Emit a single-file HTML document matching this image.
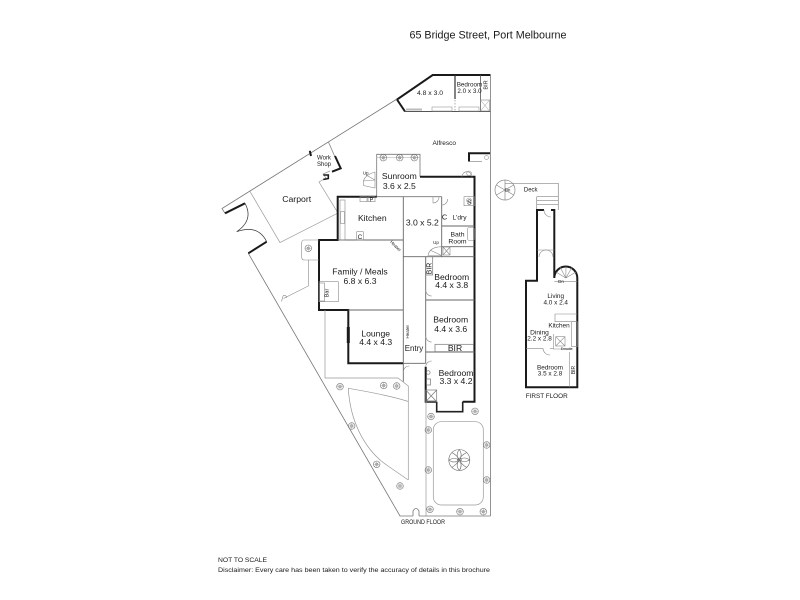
<!DOCTYPE html>
<html><head><meta charset="utf-8"><style>
html,body{margin:0;padding:0;background:#fff;}
svg{display:block;}
text{font-family:"Liberation Sans",Arial,sans-serif;fill:#1a1a1a;}
</style></head><body>
<svg width="800" height="600" viewBox="0 0 800 600" xmlns="http://www.w3.org/2000/svg">
<defs>
<symbol id="pl" viewBox="-4 -4 8 8" overflow="visible">
<circle r="3.3" fill="none" stroke="#777" stroke-width="0.6"/>
<circle r="1.3" fill="none" stroke="#777" stroke-width="0.5"/>
<path d="M-3,0H3M0,-3V3M-2.2,-2.2L2.2,2.2M-2.2,2.2L2.2,-2.2" stroke="#999" stroke-width="0.4"/>
</symbol>
</defs>
<rect width="800" height="600" fill="#fff"/>

<!-- Title -->
<text x="409.5" y="38.5" font-size="10.7" textLength="157" lengthAdjust="spacingAndGlyphs">65 Bridge Street, Port Melbourne</text>

<!-- ===== Studio top ===== -->
<g fill="none" stroke-linejoin="miter">
<path d="M405,111.5 L397,99.5 L432.7,75 L490.5,75" stroke="#1a1a1a" stroke-width="2"/>
<path d="M405,111.5 H490.5" stroke="#555" stroke-width="1"/>
<path d="M455,75 V99" stroke="#333" stroke-width="1.2"/>
<path d="M455,100 V111" stroke="#888" stroke-width="0.7" stroke-dasharray="1.5,1.5"/>
<path d="M480.5,75 V111.5" stroke="#555" stroke-width="0.8"/>
<rect x="480.5" y="100" width="9" height="11" stroke="#888" stroke-width="0.6"/>
<path d="M480.5,100 L489.5,111 M489.5,100 L480.5,111" stroke="#999" stroke-width="0.5"/>
<rect x="432" y="107" width="20" height="4" stroke="#999" stroke-width="0.6"/>
<rect x="459" y="107" width="20" height="4" stroke="#999" stroke-width="0.6"/>
<path d="M406,109.5 H422" stroke="#bbb" stroke-width="2"/>
</g>
<text x="430" y="95" font-size="6.8" text-anchor="middle">4.8 x 3.0</text>
<text x="469.5" y="86.5" font-size="6.3" text-anchor="middle">Bedroom</text>
<text x="469.5" y="92.8" font-size="6.3" text-anchor="middle">2.0 x 3.0</text>
<text transform="translate(487.3,85) rotate(-90)" font-size="5.5" text-anchor="middle">BIR</text>

<!-- ===== Property boundary ===== -->
<g fill="none" stroke="#777" stroke-width="0.8">
<path d="M397,99 L222,208.5 L225,213.3"/>
<path d="M248.3,253.3 L400,516 H413 M419,516 H490.5"/>
<path d="M413,516 V511 Q416,506 419,511 V516"/>
<path d="M490.5,75 V516"/>
</g>
<!-- gate leaves -->
<path d="M225,213.3 L245,203.3" stroke="#1a1a1a" stroke-width="2"/>
<path d="M266.7,241.7 L248.3,253.3" stroke="#1a1a1a" stroke-width="2"/>
<path d="M245,203.3 Q254,220 236.7,231.7 Q258,224 266.7,241.7" fill="none" stroke="#333" stroke-width="0.7"/>

<!-- Carport -->
<path d="M250,191.5 L280,242.5 L338,213 L319,182 L326,178 L323,174 L330,171" fill="none" stroke="#999" stroke-width="0.7"/>
<text x="296.7" y="202" font-size="8.7" text-anchor="middle">Carport</text>

<!-- Work shop -->
<path d="M328.3,141.7 L335,157" fill="none" stroke="#888" stroke-width="0.8"/>
<path d="M335,156 L340.7,168.3 L332,171.7" fill="none" stroke="#1a1a1a" stroke-width="2"/>
<path d="M309.8,150.8 L311,156" fill="none" stroke="#1a1a1a" stroke-width="2"/>
<path d="M323.3,175 H328.3 V178.5 L323.3,179.5" fill="none" stroke="#1a1a1a" stroke-width="1.6"/>
<text x="324" y="159.5" font-size="6" text-anchor="middle">Work</text>
<text x="324" y="165.9" font-size="6" text-anchor="middle">Shop</text>

<!-- Alfresco -->
<text x="444.3" y="145" font-size="6.5" text-anchor="middle">Alfresco</text>
<path d="M469,161.5 V153.3 H490" fill="none" stroke="#1a1a1a" stroke-width="2"/>
<path d="M469,161.5 H482" fill="none" stroke="#777" stroke-width="0.6"/>
<circle cx="486.5" cy="157.5" r="2" fill="none" stroke="#888" stroke-width="0.5"/>

<!-- ===== Sunroom ===== -->
<g fill="none" stroke="#777" stroke-width="0.8">
<path d="M376.7,196.7 V154.3 H420 V176.7"/>
<path d="M376.7,157.5 H420" stroke="#aaa" stroke-width="0.5"/>
<path d="M376.7,196.7 H441.7"/>
</g>
<use href="#pl" x="379.3" y="153.7" width="8" height="8"/>
<use href="#pl" x="395.7" y="153.7" width="8" height="8"/>
<use href="#pl" x="410.3" y="153.7" width="8" height="8"/>
<path d="M375,172 L375,188 L363.5,185.5 Q361.5,176 375,172 Z M375,180 L363,181 M375,180 L366,175" fill="none" stroke="#888" stroke-width="0.6"/>
<text x="365.7" y="174.5" font-size="4.5" text-anchor="middle">Up</text>
<text x="399.3" y="179" font-size="8.6" text-anchor="middle">Sunroom</text>
<text x="399.3" y="188.8" font-size="8.6" text-anchor="middle">3.6 x 2.5</text>

<!-- ===== Main house thick walls ===== -->
<g fill="none" stroke="#1a1a1a" stroke-width="2" stroke-linejoin="miter">
<path d="M376.7,196.7 H337.7 V240 H319 V310 H348.3 V363.3 H403.3"/>
<path d="M420,176.7 H474.5 V401.7 H462.7"/>
<path d="M436.7,401.7 H425.7 V366.7"/>
</g>
<!-- lounge window -->
<rect x="346.8" y="327" width="3" height="16" fill="#1a1a1a"/>
<!-- bay -->
<path d="M436.7,401.7 V411.7 H462.7 V401.7" fill="none" stroke="#222" stroke-width="1.6"/>

<!-- inner walls -->
<g fill="none" stroke="#666" stroke-width="0.9">
<path d="M403.3,196.7 V363.3"/>
<path d="M337.7,240 H403.3"/>
<path d="M348.3,310 H403.3"/>
<path d="M441.7,196.7 V256.7"/>
<path d="M441.7,226 H474.5"/>
<path d="M441.7,246.7 H474.5"/>
<path d="M403.3,256.7 H474.5"/>
<path d="M425.7,256.7 V363.3"/>
<path d="M425.7,300 H474.5"/>
<path d="M425.7,352 H474.5"/>
<path d="M403.3,363.3 H425.7"/>
<path d="M403.3,363.3 V381.7"/>
</g>
<!-- door arcs -->
<g fill="none" stroke="#888" stroke-width="0.6">
<path d="M433,196.7 V203 A6,6 0 0 0 439,196.7"/>
<path d="M403.3,372 A6,6 0 0 1 409.3,366"/>
<path d="M425.7,367 A6,6 0 0 1 431.7,361"/>
<path d="M425.7,290 A6,6 0 0 0 431.7,296"/>
<path d="M425.7,336 A6,6 0 0 0 431.7,342"/>
<path d="M441.7,205 A6,6 0 0 0 447.7,199"/>
<path d="M462,176.7 A5,5 0 0 1 472,176.7"/>
<circle cx="469" cy="173.3" r="2.3"/>
<circle cx="469" cy="200.3" r="2.3"/>
</g>

<!-- Kitchen fixtures -->
<g fill="none" stroke="#888" stroke-width="0.6">
<rect x="340" y="200" width="5" height="40"/>
<rect x="340.5" y="211.7" width="4" height="11.6"/>
<rect x="360" y="196.7" width="7" height="5"/>
<rect x="368" y="196.7" width="7" height="5"/>
<rect x="356.7" y="231.7" width="6.6" height="8.3"/>
</g>
<text x="371.5" y="201.3" font-size="5.5" text-anchor="middle">P</text>
<text x="360" y="238.8" font-size="6.5" text-anchor="middle">C</text>
<text x="372.3" y="220.8" font-size="8.6" text-anchor="middle">Kitchen</text>
<text x="422.3" y="225.4" font-size="8.6" text-anchor="middle">3.0 x 5.2</text>

<!-- Laundry / bath -->
<g fill="none" stroke="#888" stroke-width="0.6">
<rect x="464" y="196.7" width="10.5" height="9"/>
<rect x="467.5" y="227.5" width="7" height="13" rx="2"/>
<rect x="443" y="247" width="7" height="8"/>
<path d="M443,247 L450,255 M450,247 L443,255"/>
<path d="M441.5,255.5 L428,255.5 Q429.5,247 441.5,246.7 Z M441.5,255.5 L430,250"/>
</g>
<text x="469.3" y="204.5" font-size="7" text-anchor="middle">S</text>
<text x="444.6" y="219.6" font-size="7.5" text-anchor="middle">C</text>
<text x="459.5" y="219.3" font-size="6.6" text-anchor="middle">L'dry</text>
<text x="457.5" y="236.4" font-size="6.8" text-anchor="middle">Bath</text>
<text x="457.5" y="243.4" font-size="6.8" text-anchor="middle">Room</text>
<text x="436" y="244" font-size="4.5" text-anchor="middle">Up</text>

<!-- Family left fixtures -->
<g fill="none" stroke="#888" stroke-width="0.6">
<path d="M319,240 H304 Q301.7,240 301.7,243 V257 Q301.7,260 304,260 H319"/>
<path d="M308.3,260 V286 L283.5,298.5"/>
<path d="M281.5,301.5 L283,296 Q286,294 286.5,298"/>
<rect x="319" y="281.7" width="19.3" height="20"/>
<rect x="319.5" y="283" width="5" height="18"/>
</g>
<use href="#pl" x="304.3" y="244.3" width="8" height="8"/>
<text transform="translate(394.5,247) rotate(45)" font-size="4.5" text-anchor="middle">Heater</text>
<text transform="translate(328.5,293) rotate(-90)" font-size="5.5" text-anchor="middle">Bar</text>
<text x="360" y="274.4" font-size="8.6" text-anchor="middle">Family / Meals</text>
<text x="360" y="284.1" font-size="8.6" text-anchor="middle">6.8 x 6.3</text>
<text x="375.7" y="336.4" font-size="8.6" text-anchor="middle">Lounge</text>
<text x="375.7" y="344.8" font-size="8.6" text-anchor="middle">4.4 x 4.3</text>
<text transform="translate(409,331.7) rotate(-90)" font-size="4.5" text-anchor="middle">Heater</text>
<text x="414" y="351.1" font-size="7.9" text-anchor="middle">Entry</text>

<!-- Bedrooms -->
<g fill="none" stroke="#777" stroke-width="0.7">
<rect x="425.7" y="256.7" width="7" height="18.3"/>
<rect x="435" y="344.3" width="38.5" height="7.4"/>
<circle cx="428.3" cy="372.5" r="1.8"/>
<rect x="426.5" y="379" width="4" height="6"/>
<rect x="425.7" y="390" width="11" height="11.7"/>
<path d="M425.7,390 L436.7,401.7 M436.7,390 L425.7,401.7"/>
</g>
<text transform="translate(431.6,268.5) rotate(-90)" font-size="7" text-anchor="middle">BIR</text>
<text x="451.7" y="279.8" font-size="8.6" text-anchor="middle">Bedroom</text>
<text x="451.7" y="288.1" font-size="8.6" text-anchor="middle">4.4 x 3.8</text>
<text x="450.7" y="322.4" font-size="8.6" text-anchor="middle">Bedroom</text>
<text x="450.7" y="331.8" font-size="8.6" text-anchor="middle">4.4 x 3.6</text>
<text x="455" y="351.2" font-size="8.6" text-anchor="middle">BIR</text>
<text x="456" y="375.8" font-size="8.6" text-anchor="middle">Bedroom</text>
<text x="456" y="384.1" font-size="8.6" text-anchor="middle">3.3 x 4.2</text>

<!-- ===== Garden ===== -->
<g fill="none" stroke="#999" stroke-width="0.7">
<path d="M325,310 V378 H398 L408.3,386 V480"/>
<path d="M348.3,388.3 C370,392 392,396 408.3,401.5"/>
<path d="M348.3,388.3 C350,420 364,450 388,466 L408.3,480"/>
<path d="M426,401.7 V516"/>
<rect x="433.3" y="421.7" width="50" height="83.3" rx="8"/>
</g>
<g fill="none" stroke="#666" stroke-width="0.6">
<circle cx="459.3" cy="460" r="10.5"/>
<circle cx="459.3" cy="460" r="2"/>
<path d="M459.3,449.5 Q463,455 459.3,460 Q455,455 459.3,449.5 M469.8,460 Q464,463 459.3,460 Q464,456 469.8,460 M459.3,470.5 Q455,465 459.3,460 Q463,465 459.3,470.5 M448.8,460 Q454,457 459.3,460 Q454,464 448.8,460 M451.9,452.6 Q457,455 459.3,460 M466.7,452.6 Q461,455 459.3,460 M466.7,467.4 Q462,465 459.3,460 M451.9,467.4 Q456,465 459.3,460"/>
</g>
<g>
<use href="#pl" x="336" y="382.7" width="8" height="8"/>
<use href="#pl" x="379.7" y="381.5" width="8" height="8"/>
<use href="#pl" x="392.7" y="382" width="8" height="8"/>
<use href="#pl" x="347.7" y="422" width="8" height="8"/>
<use href="#pl" x="372.7" y="460.3" width="8" height="8"/>
<use href="#pl" x="396" y="482" width="8" height="8"/>
<use href="#pl" x="427" y="412.5" width="8" height="8"/>
<use href="#pl" x="424.3" y="426" width="8" height="8"/>
<use href="#pl" x="424.3" y="466" width="8" height="8"/>
<use href="#pl" x="426" y="505.3" width="8" height="8"/>
<use href="#pl" x="456" y="507.7" width="8" height="8"/>
<use href="#pl" x="479.3" y="507.7" width="8" height="8"/>
<use href="#pl" x="482.7" y="441" width="8" height="8"/>
<use href="#pl" x="482.7" y="476" width="8" height="8"/>
<use href="#pl" x="471" y="407.3" width="8" height="8"/>
</g>
<text x="423" y="524.2" font-size="6" text-anchor="middle" textLength="44" lengthAdjust="spacingAndGlyphs">GROUND FLOOR</text>

<!-- ===== First floor ===== -->
<g fill="none" stroke="#888" stroke-width="0.7">
<path d="M505,183.3 H558.3 V210"/>
<path d="M536.7,196.7 H558.3 M536.7,200.7 H558.3 M536.7,204.7 H558.3 M536.7,196.7 V210"/>
<circle cx="505" cy="190" r="10"/>
<path d="M505,190 L505,180 M505,190 L513.7,185 M505,190 L513.7,195 M505,190 L505,200 M505,190 L496.3,195 M505,190 L496.3,185"/>
</g>
<text x="507.5" y="191.5" font-size="4.5" text-anchor="middle">Dn</text>
<text x="530.7" y="191.5" font-size="6" text-anchor="middle">Deck</text>

<g fill="none" stroke="#1a1a1a" stroke-width="2" stroke-linejoin="miter">
<path d="M544,210 H537 V280.7 H526 V387.3 H577.3 V278 A11.5,11.5 0 0 0 554.3,278 V210 H551"/>
</g>
<g fill="none" stroke="#888" stroke-width="0.6">
<path d="M544,210 A7,7 0 0 0 551,217"/>
<path d="M537,250 H554.3"/>
<path d="M546,250 A7,7 0 0 1 553,257 M546,250 A7,7 0 0 0 539,257"/>
<path d="M554.3,281.7 H577.3"/>
<path d="M565.8,278 L556,272 M565.8,278 L560,267 M565.8,278 L566,266.5 M565.8,278 L572,267.5 M565.8,278 L576,272"/>
<path d="M555,314 H577.3 M555,314 V321.7 H577.3"/>
<rect x="571.7" y="321.7" width="5.6" height="25"/>
<rect x="555.7" y="336.7" width="9.3" height="9.3"/>
<path d="M555.7,336.7 L565,346 M565,336.7 L555.7,346"/>
<path d="M553.3,334 V349 H571.7"/>
<path d="M526,348.3 H543 M550,348.3 H553.3"/>
<path d="M543,348.3 A7,7 0 0 0 550,355"/>
<path d="M569.7,352 V387.3"/>
</g>
<text x="561" y="283" font-size="4.5" text-anchor="middle">Dn</text>
<text x="555.7" y="298" font-size="6.4" text-anchor="middle">Living</text>
<text x="555.7" y="304.3" font-size="6.4" text-anchor="middle">4.0 x 2.4</text>
<text x="559" y="327.7" font-size="6.4" text-anchor="middle">Kitchen</text>
<text x="539.5" y="334.7" font-size="6.6" text-anchor="middle">Dining</text>
<text x="539.5" y="340.7" font-size="6.4" text-anchor="middle">2.2 x 2.8</text>
<text x="566.7" y="350.2" font-size="3.6" text-anchor="middle">Ensuite</text>
<text x="550" y="369.5" font-size="6.4" text-anchor="middle">Bedroom</text>
<text x="550" y="375.5" font-size="6.4" text-anchor="middle">3.5 x 2.8</text>
<text transform="translate(575,370) rotate(-90)" font-size="5" text-anchor="middle">BIR</text>
<text x="546.7" y="398.2" font-size="6.4" text-anchor="middle" textLength="42" lengthAdjust="spacingAndGlyphs">FIRST FLOOR</text>

<!-- Footer -->
<text x="218" y="562" font-size="6.7" textLength="49" lengthAdjust="spacingAndGlyphs">NOT TO SCALE</text>
<text x="218" y="572" font-size="6.7" textLength="272" lengthAdjust="spacingAndGlyphs">Disclaimer: Every care has been taken to verify the accuracy of details in this brochure</text>
</svg>
</body></html>
